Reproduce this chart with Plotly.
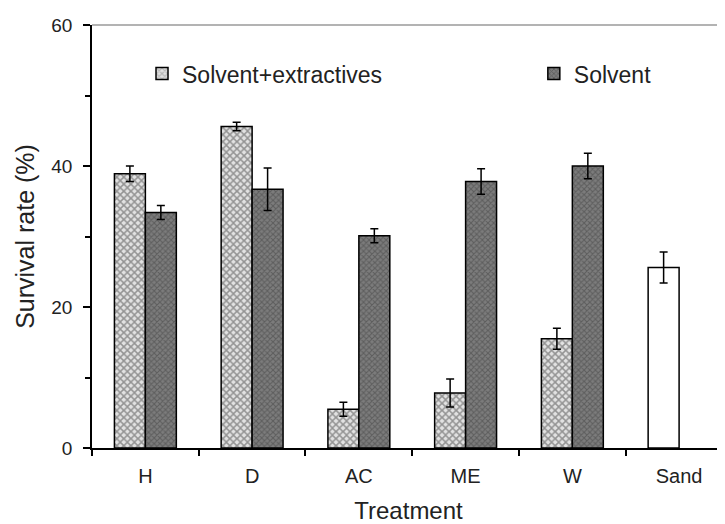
import plotly.graph_objects as go

categories = ["H", "D", "AC", "ME", "W", "Sand"]
solv_extr = [38.9, 45.6, 5.5, 7.8, 15.5, 25.6]
solv_extr_err = [1.1, 0.6, 1.0, 2.0, 1.5, 2.2]
solvent = [33.4, 36.7, 30.1, 37.8, 40.0, None]
solvent_err = [1.0, 3.0, 1.0, 1.8, 1.8, None]
y_major = [0, 20, 40, 60]
y_minor = [10, 30, 50]

FONT = "Liberation Sans, Arial, sans-serif"
TXT = "#222222"

fig = go.Figure()
fig.add_trace(go.Bar(
    x=categories, y=solv_extr, name="Solvent+extractives", legend="legend",
    error_y=dict(type="data", array=solv_extr_err, color="black", thickness=1.5, width=4),
    marker=dict(
        color=["#e2e2e2"] * 5 + ["white"],
        line=dict(color="black", width=1.5),
        pattern=dict(shape=["x"] * 5 + [""], fgcolor="#8a8a8a", size=5, solidity=0.5),
    ),
))
fig.add_trace(go.Bar(
    x=categories, y=solvent, name="Solvent", legend="legend2",
    error_y=dict(type="data", array=solvent_err, color="black", thickness=1.5, width=4),
    marker=dict(
        color="#7c7c7c",
        line=dict(color="black", width=1.5),
        pattern=dict(shape="x", fgcolor="#3e3e3e", size=4, solidity=0.45),
    ),
))

legend_common = dict(
    orientation="h", yanchor="middle", xanchor="left",
    font=dict(size=23, color=TXT), bgcolor="rgba(0,0,0,0)",
)

fig.update_layout(
    width=725, height=524,
    margin=dict(l=84, r=8, t=17, b=84, autoexpand=False),
    plot_bgcolor="white", paper_bgcolor="white",
    barmode="group", bargap=0.42, bargroupgap=0,
    font=dict(family=FONT, color=TXT, size=19),
    showlegend=True,
    legend=dict(x=0.079, y=0.885, **legend_common),
    legend2=dict(x=0.698, y=0.885, **legend_common),
    xaxis=dict(
        type="category", range=[-0.5, 5.43], showline=True, linecolor="black", linewidth=1.5,
        ticks="outside", tickson="boundaries", ticklen=6, tickwidth=1.5, tickcolor="black",
        ticklabelstandoff=9, tickfont=dict(size=20, color=TXT),
        title=dict(text="Treatment", font=dict(size=24, color=TXT), standoff=16),
        showgrid=False, zeroline=False, automargin=False,
    ),
    xaxis2=dict(
        overlaying="x", range=[-0.5, 5.43], tickvals=[0.5, 1.5, 2.5, 3.5, 4.5],
        ticks="inside", ticklen=6, tickwidth=1.5, tickcolor="black",
        showticklabels=False, showgrid=False, zeroline=False, showline=False, automargin=False,
    ),
    yaxis=dict(
        range=[0, 60], tickvals=y_major, showline=True, linecolor="black", linewidth=1.5,
        ticks="outside", ticklen=7, tickwidth=1.5, tickcolor="black",
        minor=dict(tickvals=y_minor, ticks="outside", ticklen=5, tickwidth=1.5, tickcolor="black"),
        ticklabelstandoff=7, tickfont=dict(size=19, color=TXT),
        title=dict(text="Survival rate (%)", font=dict(size=25, color=TXT), standoff=10),
        showgrid=False, zeroline=False, automargin=False,
    ),
    yaxis2=dict(
        overlaying="y", range=[0, 60], tickvals=y_major + y_minor,
        ticks="inside", ticklen=4, tickwidth=1.5, tickcolor="black",
        showticklabels=False, showgrid=False, zeroline=False, showline=False, automargin=False,
    ),
    shapes=[dict(type="line", xref="paper", yref="paper", x0=0, x1=1, y0=1, y1=1,
                 line=dict(color="#9a9a9a", width=1.5))],
)

fig.write_html("out.html")
